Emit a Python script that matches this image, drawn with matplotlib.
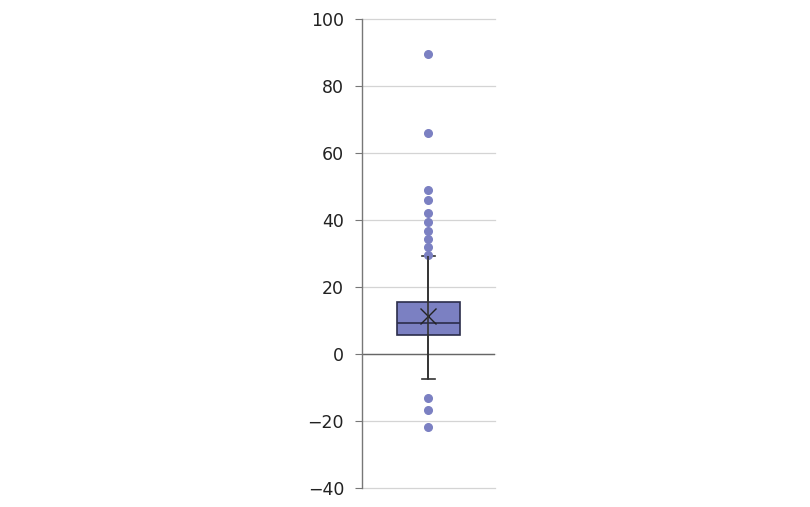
import matplotlib.pyplot as plt

# box statistics
q1 = 5.6
median = 9.4
q3 = 15.4
mean = 11.2
whisker_low = -7.4
whisker_high = 29.4
outliers = [89.6, 66.0, 49.0, 46.0, 42.2, 39.3, 36.8, 34.4, 31.9, 29.6,
            -13.2, -16.8, -21.8]

y_ticks = [-40, -20, 0, 20, 40, 60, 80, 100]

fill = '#7b80c2'
edge = '#2b2d4a'

fig = plt.figure(figsize=(8.1, 5.07), dpi=100)
ax = fig.add_axes([0.447, 0.0375, 0.164, 0.925])

stats = [{
    'med': median, 'q1': q1, 'q3': q3, 'mean': mean,
    'whislo': whisker_low, 'whishi': whisker_high,
    'fliers': outliers, 'label': '',
}]

ax.bxp(stats, positions=[1], widths=0.48, capwidths=0.1, showmeans=True,
       patch_artist=True,
       boxprops=dict(facecolor=fill, edgecolor=edge, linewidth=1.2),
       medianprops=dict(color=edge, linewidth=1.2),
       whiskerprops=dict(color='#333333', linewidth=1.2),
       capprops=dict(color='#333333', linewidth=1.2),
       meanprops=dict(marker='x', markeredgecolor='#222222', markersize=12,
                      markeredgewidth=1.0),
       flierprops=dict(marker='o', markerfacecolor=fill, markeredgecolor=fill,
                       markersize=5.5))

# the whisker line runs through the box in the original
ax.vlines(1, whisker_low, whisker_high, color='#333333', linewidth=1.2, zorder=3)

ax.set_xlim(0.5, 1.5)
ax.set_ylim(-40, 100)
ax.set_yticks(y_ticks)
ax.set_yticklabels([str(t).replace('-', '\u2212') for t in y_ticks])
ax.set_xticks([])
ax.yaxis.grid(True, color='#d4d4d4', linewidth=0.9)
for gl in ax.get_ygridlines():
    gl.set_clip_on(False)
ax.set_axisbelow(True)
ax.axhline(0, color='#666666', linewidth=1.0, zorder=1)

for side in ['top', 'right', 'bottom']:
    ax.spines[side].set_visible(False)
ax.spines['left'].set_color('#777777')
ax.spines['left'].set_linewidth(1.0)
ax.tick_params(axis='y', length=5, color='#777777', labelsize=12.5,
               labelcolor='#222222', pad=8)

fig.savefig('out.png', dpi=100)
plt.close()
